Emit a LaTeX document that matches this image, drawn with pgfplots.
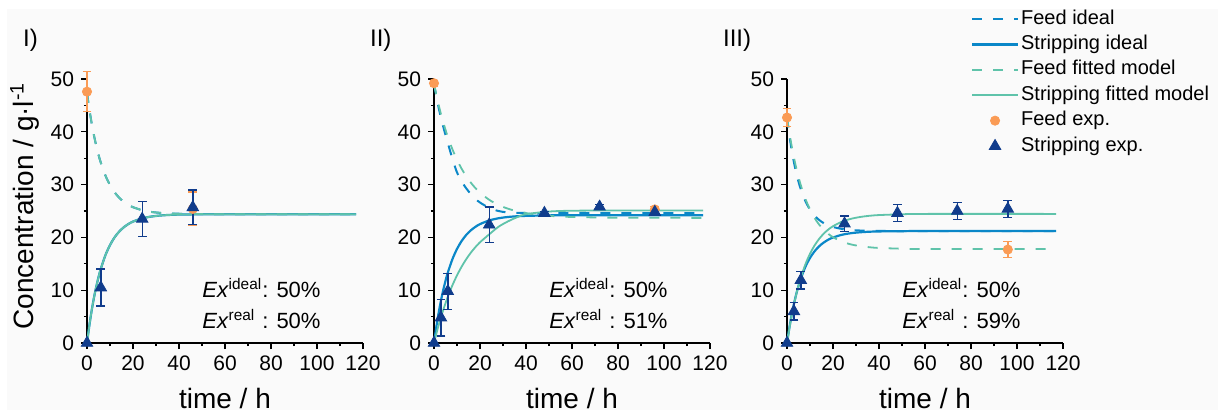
\documentclass[border=0pt]{standalone}
\usepackage{fontspec}
\setmainfont{Liberation Sans}
\usepackage{pgfplots}
\pgfplotsset{compat=1.18}

\definecolor{feedc}{RGB}{250,155,85}
\definecolor{stripc}{RGB}{16,60,140}
\definecolor{idealc}{RGB}{10,135,200}
\definecolor{fitc}{RGB}{95,195,170}
\definecolor{bgc}{RGB}{250,250,250}

\pgfplotsset{
  panel/.style={
    scale only axis, width=138pt, height=132pt,
    xmin=0, xmax=120, ymin=0, ymax=50,
    axis lines=left, axis line style={-, line width=0.6pt},
    xtick={0,20,...,120}, ytick={0,10,...,50},
    minor x tick num=1, minor y tick num=1,
    tick align=outside, major tick length=3pt, minor tick length=1.6pt,
    every tick/.style={black, line width=0.6pt},
    every minor tick/.style={black, line width=0.6pt},
    tick label style={font=\fontsize{10.5}{12}\selectfont},
    /pgf/number format/assume math mode=true,
    xlabel={time / h},
    xlabel style={font=\fontsize{14}{16}\selectfont, at={(axis description cs:0.5,-0.25)}, anchor=base},
    clip=false,
    legend image code/.code={\draw[mark repeat=2,mark phase=2,#1] plot coordinates {(0pt,0pt) (11.5pt,0pt) (23pt,0pt)};},
  },
  feedideal/.style={idealc, line width=1pt, dash pattern=on 5pt off 5.5pt, smooth, no marks},
  stripideal/.style={idealc, line width=1.1pt, smooth, no marks},
  feedfit/.style={fitc, line width=0.9pt, dash pattern=on 5pt off 5.5pt, smooth, no marks},
  stripfit/.style={fitc, line width=0.9pt, smooth, no marks},
  feedexp/.style={only marks, mark=*, mark size=2.3pt, color=feedc,
    error bars/y dir=both, error bars/y explicit,
    error bars/error bar style={line width=0.7pt, feedc},
    error bars/error mark options={rotate=90, mark size=2.2pt, line width=0.7pt, feedc}},
  stripexp/.style={only marks, mark=triangle*, mark size=3.3pt, color=stripc,
    error bars/y dir=both, error bars/y explicit,
    error bars/error bar style={line width=0.7pt, stripc},
    error bars/error mark options={rotate=90, mark size=2.2pt, line width=0.7pt, stripc}},
}

\newcommand{\extext}[2]{\node[anchor=base west, inner sep=0pt, font=\fontsize{11}{15.5}\selectfont] at (axis cs:50,8.7)
  {\begin{tabular}[t]{@{}l@{}l@{}}\textit{Ex}\textsuperscript{ideal}&: #1\\ \textit{Ex}\textsuperscript{real}&: #2\end{tabular}};}
\newcommand{\panellabel}[1]{\node[anchor=base west, inner sep=0pt, font=\fontsize{12}{14}\selectfont] at (rel axis cs:-0.233,1.125) {#1};}

\begin{document}
\begin{tikzpicture}
\fill[white] (0,0) rectangle (609pt,205pt);
\fill[bgc] (3.5pt,0) rectangle (609pt,200.5pt);

% ---------- I) ----------
\begin{axis}[panel, at={(43.5pt,33.5pt)},
  ylabel={Concentration / g·l\textsuperscript{-1}},
  ylabel style={font=\fontsize{14}{16}\selectfont, at={(axis description cs:-0.225,0.519)}, anchor=center}]
\addplot[feedideal] coordinates {(0,47.4)(1,44.34)(2,41.68)(3,39.38)(4,37.39)(5,35.66)(6,34.16)(8,31.73)(10,29.91)(12,28.54)(14,27.51)(16,26.74)(18,26.16)(20,25.72)(24,25.15)(28,24.82)(32,24.64)(36,24.53)(40,24.48)(50,24.42)(60,24.4)(117,24.4)};
\addplot[stripideal] coordinates {(0,0)(1,3.25)(2,6.06)(3,8.51)(4,10.62)(5,12.46)(6,14.04)(8,16.62)(10,18.55)(12,20.01)(14,21.10)(16,21.92)(18,22.54)(20,23.00)(24,23.61)(28,23.95)(32,24.15)(36,24.26)(40,24.32)(50,24.38)(60,24.4)(117,24.4)};
\addplot[feedfit] coordinates {(0,47.4)(1,44.34)(2,41.68)(3,39.38)(4,37.39)(5,35.66)(6,34.16)(8,31.73)(10,29.91)(12,28.54)(14,27.51)(16,26.74)(18,26.16)(20,25.72)(24,25.15)(28,24.82)(32,24.64)(36,24.53)(40,24.48)(50,24.42)(60,24.4)(117,24.4)};
\addplot[stripfit] coordinates {(0,0)(1,3.25)(2,6.06)(3,8.51)(4,10.62)(5,12.46)(6,14.04)(8,16.62)(10,18.55)(12,20.01)(14,21.10)(16,21.92)(18,22.54)(20,23.00)(24,23.61)(28,23.95)(32,24.15)(36,24.26)(40,24.32)(50,24.38)(60,24.4)(117,24.4)};
\addplot[feedexp] coordinates {(0,47.6) +- (0,3.8) (46,25.4) +- (0,3.2)};
\addplot[stripexp] coordinates {(0,0) +- (0,0) (6,10.5) +- (0,3.5) (24,23.5) +- (0,3.3) (46,25.7) +- (0,3.3)};
\extext{50\%}{50\%}
\panellabel{I)}
\end{axis}

% ---------- II) ----------
\begin{axis}[panel, at={(217pt,33.5pt)}]
\addplot[feedideal] coordinates {(0,49.0)(1,46.8)(2,44.6)(3,42.7)(4,41.0)(5,39.4)(6,37.9)(8,34.9)(10,32.3)(12,30.6)(14,29.3)(16,28.2)(18,27.3)(20,26.6)(24,25.6)(28,25.0)(32,24.75)(40,24.62)(60,24.6)(117,24.6)};
\addplot[stripideal] coordinates {(0,0)(1,3.02)(2,5.67)(3,7.98)(4,10.00)(5,11.78)(6,13.33)(8,15.87)(10,17.82)(12,19.31)(14,20.46)(16,21.33)(18,22.00)(20,22.52)(24,23.21)(28,23.62)(32,23.86)(36,24.00)(40,24.08)(50,24.17)(60,24.2)(117,24.2)};
\addplot[feedfit] coordinates {(0,49.0)(1,46.98)(2,45.12)(3,43.40)(4,41.83)(5,40.38)(6,39.04)(8,36.69)(10,34.70)(12,33.01)(14,31.58)(16,30.37)(18,29.34)(20,28.48)(24,27.12)(28,26.15)(32,25.46)(36,24.96)(40,24.60)(50,24.09)(60,23.87)(80,23.73)(117,23.7)};
\addplot[stripfit] coordinates {(0,0)(1,1.73)(2,3.34)(3,4.84)(4,6.24)(5,7.54)(6,8.75)(8,10.93)(10,12.81)(12,14.45)(14,15.87)(16,17.10)(18,18.16)(20,19.08)(24,20.58)(28,22.0)(32,23.0)(36,23.8)(40,24.4)(50,24.9)(60,25.05)(80,25.1)(117,25.1)};
\addplot[feedexp] coordinates {(0,49.2) +- (0,0.5) (96,25.3) +- (0,0.5)};
\addplot[stripexp] coordinates {(0,0) +- (0,0) (3,4.8) +- (0,3.45) (6,9.8) +- (0,3.4) (24,22.4) +- (0,3.35) (48,24.6) +- (0,0.3) (72,25.8) +- (0,0.4) (96,24.8) +- (0,0.3)};
\extext{50\%}{51\%}
\panellabel{II)}
\end{axis}

% ---------- III) ----------
\begin{axis}[panel, at={(393.5pt,33.5pt)},
  legend style={at={(0.665,1.274)}, anchor=north west, draw=none, fill=none, inner sep=0pt,
    font=\fontsize{10}{12}\selectfont, legend cell align=left, row sep=0.7pt,
    nodes={text height=7.5pt, text depth=2.5pt, inner sep=1pt}}]
\addplot[feedideal] coordinates {(0,42.7)(1,39.4)(2,36.6)(3,34.24)(4,32.24)(5,30.54)(6,29.11)(8,26.87)(10,25.26)(12,24.11)(14,23.29)(16,22.69)(18,22.27)(20,21.97)(24,21.59)(28,21.40)(32,21.30)(40,21.22)(60,21.2)(117,21.2)};
\addlegendentry{Feed ideal}
\addplot[stripideal] coordinates {(0,0)(1,2.82)(2,5.27)(3,7.39)(4,9.23)(5,10.82)(6,12.20)(8,14.44)(10,16.12)(12,17.38)(14,18.33)(16,19.04)(18,19.58)(20,19.98)(24,20.51)(28,20.81)(32,20.98)(36,21.08)(40,21.13)(50,21.18)(60,21.2)(117,21.2)};
\addlegendentry{Stripping ideal}
\addplot[feedfit] coordinates {(0,42.7)(1,39.87)(2,37.37)(3,35.15)(4,33.18)(5,31.43)(6,29.88)(8,27.30)(10,25.27)(12,23.67)(14,22.41)(16,21.42)(18,20.65)(20,20.04)(24,19.18)(28,18.65)(32,18.33)(36,18.13)(40,18.00)(50,17.86)(60,17.8)(117,17.8)};
\addlegendentry{Feed fitted model}
\addplot[stripfit] coordinates {(0,0)(1,2.71)(2,5.13)(3,7.27)(4,9.18)(5,10.87)(6,12.38)(8,14.91)(10,16.91)(12,18.49)(14,19.74)(16,20.73)(18,21.51)(20,22.12)(24,23.00)(28,23.54)(32,23.88)(36,24.10)(40,24.23)(50,24.38)(60,24.45)(117,24.45)};
\addlegendentry{Stripping fitted model}
\addplot[feedexp] coordinates {(0,42.7) +- (0,1.7) (96,17.7) +- (0,1.5)};
\addlegendentry{Feed exp.}
\addplot[stripexp] coordinates {(0,0) +- (0,0) (3,6.0) +- (0,1.65) (6,11.9) +- (0,1.65) (25,22.6) +- (0,1.45) (48,24.6) +- (0,1.6) (74,25.0) +- (0,1.6) (96,25.4) +- (0,1.6)};
\addlegendentry{Stripping exp.}
\extext{50\%}{59\%}
\panellabel{III)}
\end{axis}
\end{tikzpicture}
\end{document}
